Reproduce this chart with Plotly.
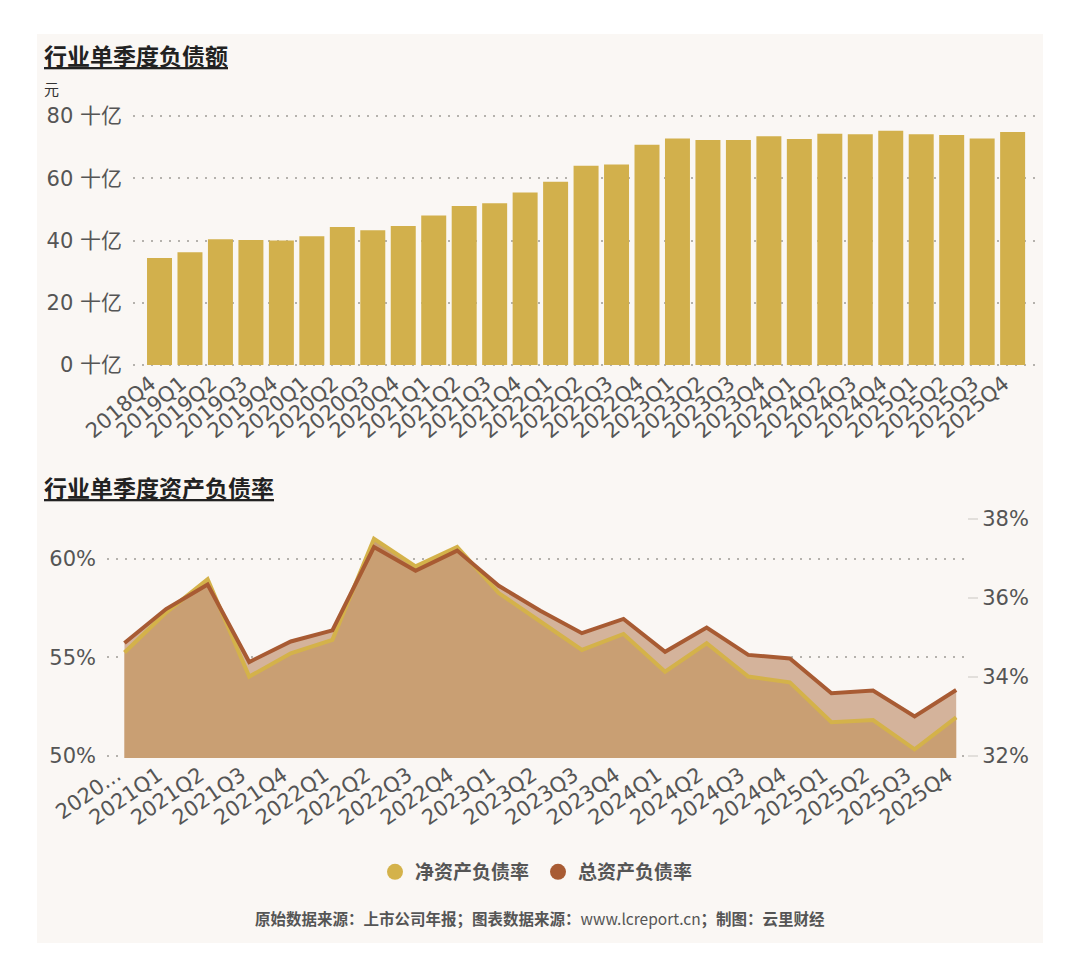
import plotly.graph_objects as go

# 行业单季度负债额（十亿元）
debt_quarters = ["2018Q4",
                 "2019Q1", "2019Q2", "2019Q3", "2019Q4",
                 "2020Q1", "2020Q2", "2020Q3", "2020Q4",
                 "2021Q1", "2021Q2", "2021Q3", "2021Q4",
                 "2022Q1", "2022Q2", "2022Q3", "2022Q4",
                 "2023Q1", "2023Q2", "2023Q3", "2023Q4",
                 "2024Q1", "2024Q2", "2024Q3", "2024Q4",
                 "2025Q1", "2025Q2", "2025Q3", "2025Q4"]
debt_bn = [34.4, 36.2, 40.4, 40.2, 40.0, 41.4, 44.3, 43.3, 44.7, 48.0,
           51.1, 52.0, 55.4, 58.9, 64.0, 64.4, 70.8, 72.8, 72.3, 72.3,
           73.5, 72.6, 74.3, 74.1, 75.3, 74.1, 73.9, 72.8, 74.9]

# 行业单季度资产负债率（%）
ratio_quarters = ["2020Q4",
                  "2021Q1", "2021Q2", "2021Q3", "2021Q4",
                  "2022Q1", "2022Q2", "2022Q3", "2022Q4",
                  "2023Q1", "2023Q2", "2023Q3", "2023Q4",
                  "2024Q1", "2024Q2", "2024Q3", "2024Q4",
                  "2025Q1", "2025Q2", "2025Q3", "2025Q4"]
ratio_ticktext = ["2020..."] + ratio_quarters[1:]
net_ratio = [55.24, 57.26, 58.95, 54.02, 55.20, 55.88, 61.00, 59.60, 60.58, 58.25,
             56.81, 55.37, 56.18, 54.27, 55.71, 54.02, 53.73, 51.71, 51.82, 50.34, 51.96]
total_ratio = [34.86, 35.72, 36.34, 34.38, 34.90, 35.18, 37.29, 36.69, 37.20, 36.31,
               35.68, 35.11, 35.47, 34.64, 35.25, 34.56, 34.47, 33.59, 33.66, 33.00, 33.67]

# page has an 8px body margin, so the figure is 16px smaller than the window
OFF = 8
W, H = 1080 - 2 * OFF, 978 - 2 * OFF
BAR = "#d2b04c"
YELLOW = "#d4b24a"
BROWN = "#a85b33"
XTICK_FONT = dict(family="DejaVu Sans, Noto Sans CJK SC", size=21, color="#555555")
YTICK_FONT = dict(family="DejaVu Sans, Noto Sans CJK SC", size=21, color="#555555")
CJK = "Noto Sans CJK SC"


def px_x(v):
    return (v - OFF) / W


def px_y(v):
    return 1 - (v - OFF) / H


fig = go.Figure()

# top: bars
fig.add_trace(go.Bar(x=debt_quarters, y=debt_bn, marker_color=BAR,
                     marker_line_width=0, showlegend=False,
                     xaxis="x", yaxis="y"))

# bottom: fills first, lines on top
fig.add_trace(go.Scatter(x=ratio_quarters, y=total_ratio, mode="lines",
                         line=dict(width=0), fill="tozeroy", fillcolor="#d4b39b",
                         showlegend=False, xaxis="x2", yaxis="y2"))
fig.add_trace(go.Scatter(x=ratio_quarters, y=net_ratio, mode="lines",
                         line=dict(width=0), fill="tozeroy", fillcolor="#c99f73",
                         showlegend=False, xaxis="x2", yaxis="y3"))
fig.add_trace(go.Scatter(x=ratio_quarters, y=net_ratio, mode="lines",
                         line=dict(color=YELLOW, width=4),
                         showlegend=False, xaxis="x2", yaxis="y4"))
fig.add_trace(go.Scatter(x=ratio_quarters, y=total_ratio, mode="lines",
                         line=dict(color=BROWN, width=4),
                         showlegend=False, xaxis="x2", yaxis="y5"))

# legend entries
fig.add_trace(go.Scatter(x=[None], y=[None], mode="markers", name="净资产负债率",
                         marker=dict(color=YELLOW, size=16), xaxis="x2", yaxis="y2"))
fig.add_trace(go.Scatter(x=[None], y=[None], mode="markers", name="总资产负债率",
                         marker=dict(color=BROWN, size=16), xaxis="x2", yaxis="y2"))

grid = dict(showgrid=True, gridcolor="#b5b2ad", griddash="2px,7px", gridwidth=1.5,
            zeroline=False, automargin=False, ticklabelstandoff=10)

# y ranges padded a little so the edge gridlines are drawn
top_pad_lo, top_pad_hi = 0.4, 0.4
PXU_TOP = 249.0 / 80
PXU_LEFT = 237.0 / 12

fig.update_layout(
    width=W, height=H,
    margin=dict(l=0, r=0, t=0, b=0, autoexpand=False),
    paper_bgcolor="white",
    plot_bgcolor="rgba(0,0,0,0)",
    bargap=0.18,
    xaxis=dict(domain=[px_x(133), px_x(1037)], anchor="y", type="category",
               range=[-0.87, 28.8], tickangle=-40, tickfont=XTICK_FONT,
               ticklabelshift=-9,
               showgrid=False, showline=False, ticks="", automargin=False),
    yaxis=dict(domain=[px_y(365 + top_pad_lo * PXU_TOP), px_y(116 - top_pad_hi * PXU_TOP)],
               anchor="x", range=[-top_pad_lo, 80 + top_pad_hi],
               tickmode="linear", tick0=0, dtick=20, ticksuffix=" 十亿",
               tickfont=YTICK_FONT, **grid),
    xaxis2=dict(domain=[px_x(107), px_x(967)], anchor="y2", type="category",
                range=[-0.42, 20.26], tickangle=-35, tickfont=XTICK_FONT,
                ticklabelshift=-8,
                tickmode="array", tickvals=ratio_quarters, ticktext=ratio_ticktext,
                showgrid=False, showline=False, ticks="", automargin=False),
    yaxis2=dict(domain=[px_y(756 + 0.1 * PXU_LEFT), px_y(519 - 0.1 * PXU_LEFT)],
                anchor="x2", side="right",
                range=[31.95, 38.05], tickmode="linear", tick0=32, dtick=2,
                ticksuffix="%", tickfont=YTICK_FONT, showgrid=False,
                zeroline=False, automargin=False,
                ticks="outside", ticklen=10, tickcolor="#e2dfdb", tickwidth=1.5),
    yaxis3=dict(overlaying="y2", anchor="x2", side="left", range=[49.9, 62.1],
                tickmode="linear", tick0=50, dtick=5, ticksuffix="%",
                tickfont=YTICK_FONT, **grid),
    yaxis4=dict(overlaying="y2", anchor="x2", range=[49.9, 62.1], visible=False),
    yaxis5=dict(overlaying="y2", anchor="x2", range=[31.95, 38.05], visible=False),
    legend=dict(orientation="h", x=px_x(538), xanchor="center", y=px_y(872),
                yanchor="middle", bgcolor="rgba(0,0,0,0)",
                font=dict(family=CJK, size=19, color="#555555", weight="bold"),
                itemwidth=30, entrywidth=118),
    shapes=[dict(type="rect", xref="paper", yref="paper",
                 x0=px_x(37), x1=px_x(1043), y0=px_y(943), y1=px_y(34),
                 fillcolor="#faf7f4", line_width=0, layer="below")],
    annotations=[
        dict(text="<b>行业单季度负债额</b>", x=px_x(42), y=px_y(55),
             xref="paper", yref="paper", xanchor="left", yanchor="middle",
             showarrow=False,
             font=dict(family=CJK, size=23, color="#222222", lineposition="under")),
        dict(text="元", x=px_x(42), y=px_y(88), xref="paper", yref="paper",
             xanchor="left", yanchor="middle", showarrow=False,
             font=dict(family=CJK, size=15, color="#333333")),
        dict(text="<b>行业单季度资产负债率</b>", x=px_x(42), y=px_y(487),
             xref="paper", yref="paper", xanchor="left", yanchor="middle",
             showarrow=False,
             font=dict(family=CJK, size=23, color="#222222", lineposition="under")),
        dict(text="<b>原始数据来源：上市公司年报；图表数据来源：</b>www.lcreport.cn<b>；制图：云里财经</b>",
             x=px_x(540), y=px_y(918), xref="paper", yref="paper",
             xanchor="center", yanchor="middle", showarrow=False,
             font=dict(family=CJK, size=15.5, color="#555555")),
    ],
)

fig.write_html("out.html")
